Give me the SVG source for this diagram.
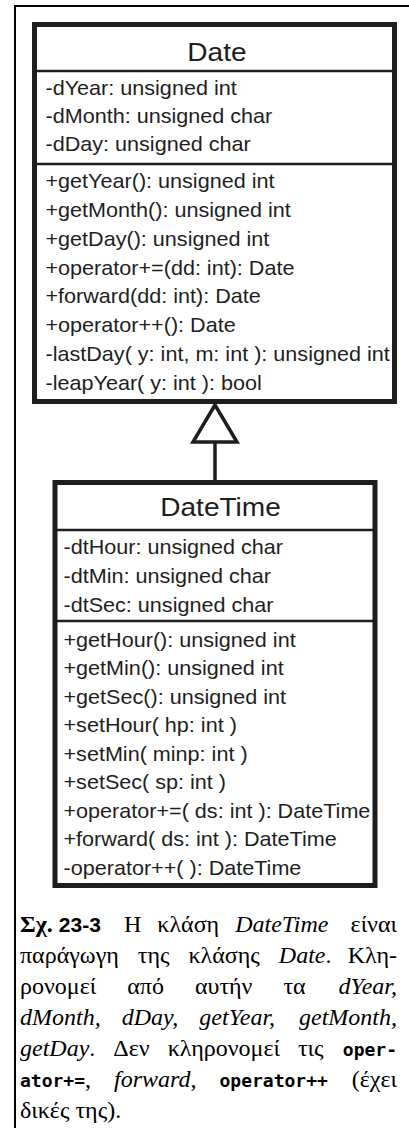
<svg xmlns="http://www.w3.org/2000/svg" width="409" height="1128" viewBox="0 0 409 1128">
<style>
  .box{fill:#fff;stroke:#1e1e1e;stroke-width:5}
  .sep{stroke:#1e1e1e;stroke-width:2.5}
  .uml{font-family:"Liberation Sans",Arial,sans-serif;font-size:20px;fill:#1e1e1e}
  .title{font-size:26px}
  .edge{fill:#fff;stroke:#1e1e1e;stroke-width:3.5}
  .cap{font-family:"Liberation Serif","Times New Roman",serif;font-size:24px;fill:#000}
  .i{font-style:italic}
  .b{font-weight:bold}
  .bs{font-family:"Liberation Sans",Arial,sans-serif;font-weight:bold;font-size:21px}
  .code{font-family:"DejaVu Sans Mono",monospace;font-weight:bold;font-size:18px}
</style>
<rect width="409" height="1128" fill="#fff"/>
<!-- page frame -->
<path d="M15 1128V6H409" fill="none" stroke="#000" stroke-width="2"/>

<!-- base class -->
<g id="date">
  <rect class="box" x="34.5" y="24.5" width="360" height="377"/>
  <line class="sep" x1="34.5" y1="71" x2="394.5" y2="71"/>
  <line class="sep" x1="34.5" y1="164" x2="394.5" y2="164"/>
  <g class="uml" transform="translate(45.5 0) scale(1.08 1)">
    <text class="title" x="158.8" y="61" text-anchor="middle">Date</text>
    <text y="95">-dYear: unsigned int</text>
    <text y="123">-dMonth: unsigned char</text>
    <text y="151">-dDay: unsigned char</text>
    <text y="188">+getYear(): unsigned int</text>
    <text y="216.9">+getMonth(): unsigned int</text>
    <text y="245.7">+getDay(): unsigned int</text>
    <text y="274.6">+operator+=(dd: int): Date</text>
    <text y="303.4">+forward(dd: int): Date</text>
    <text y="332.3">+operator++(): Date</text>
    <text y="361.1">-lastDay( y: int, m: int ): unsigned int</text>
    <text y="390">-leapYear( y: int ): bool</text>
  </g>
</g>

<!-- generalization -->
<g id="connectors">
  <line x1="215" y1="442" x2="215" y2="481" stroke="#1e1e1e" stroke-width="3.5"/>
  <polygon class="edge" points="215,405 193,442 237,442"/>
</g>

<!-- derived class -->
<g id="datetime">
  <rect class="box" x="55" y="482.5" width="320" height="403"/>
  <line class="sep" x1="55" y1="530" x2="375" y2="530"/>
  <line class="sep" x1="55" y1="621" x2="375" y2="621"/>
  <g class="uml" transform="translate(63.5 0) scale(1.08 1)">
    <text class="title" x="145.4" y="516" text-anchor="middle">DateTime</text>
    <text y="554">-dtHour: unsigned char</text>
    <text y="583">-dtMin: unsigned char</text>
    <text y="612">-dtSec: unsigned char</text>
    <text y="647">+getHour(): unsigned int</text>
    <text y="675.5">+getMin(): unsigned int</text>
    <text y="704">+getSec(): unsigned int</text>
    <text y="732.5">+setHour( hp: int )</text>
    <text y="761">+setMin( minp: int )</text>
    <text y="789.5">+setSec( sp: int )</text>
    <text y="818">+operator+=( ds: int ): DateTime</text>
    <text y="846.5">+forward( ds: int ): DateTime</text>
    <text y="875">-operator++( ): DateTime</text>
  </g>
</g>

<!-- caption: justified, last word of each line set flush right -->
<g id="caption" class="cap">
  <text y="932"><tspan x="20" class="b">Σχ.</tspan> <tspan class="bs">23-3</tspan><tspan x="124" word-spacing="10">Η κλάση <tspan class="i">DateTime</tspan></tspan><tspan x="397" text-anchor="end">είναι</tspan></text>
  <text y="963" word-spacing="13"><tspan x="20">παράγωγη της κλάσης <tspan class="i">Date</tspan>.</tspan><tspan x="397" text-anchor="end">Κλη-</tspan></text>
  <text y="994" word-spacing="25"><tspan x="20">ρονομεί από αυτήν τα</tspan><tspan x="397" text-anchor="end" class="i">dYear,</tspan></text>
  <text y="1025" word-spacing="15" class="i"><tspan x="20">dMonth, dDay, getYear,</tspan><tspan x="397" text-anchor="end">getMonth,</tspan></text>
  <text y="1056" word-spacing="12"><tspan x="20"><tspan class="i">getDay</tspan>. Δεν κληρονομεί τις</tspan><tspan x="397" text-anchor="end" class="code">oper-</tspan></text>
  <text y="1087" word-spacing="17"><tspan x="20"><tspan class="code">ator+=</tspan>, <tspan class="i">forward</tspan>, <tspan class="code">operator++</tspan></tspan><tspan x="397" text-anchor="end">(έχει</tspan></text>
  <text x="20" y="1118">δικές της).</text>
</g>
</svg>
